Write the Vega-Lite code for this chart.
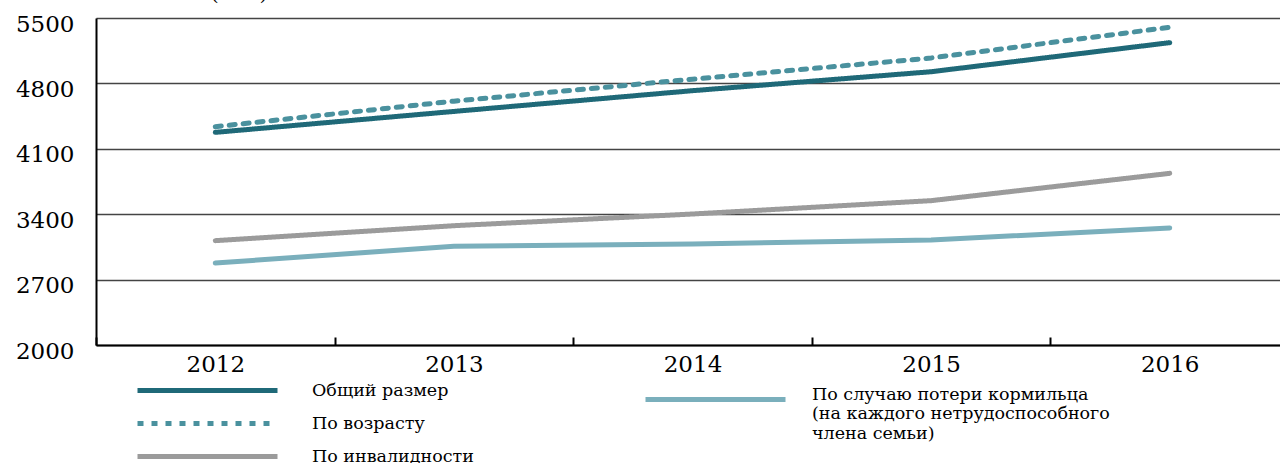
{
  "$schema": "https://vega.github.io/schema/vega-lite/v6.json",
  "width": 1193,
  "height": 327,
  "autosize": {"type": "none"},
  "padding": {"left": 96, "top": 18, "right": 0, "bottom": 118},
  "background": "white",
  "title": {"text": "(сом)", "anchor": "start", "orient": "top", "offset": 9, "dx": 195, "fontSize": 21, "font": "DejaVu Serif", "fontWeight": "normal", "color": "black"},
  "config": {
    "view": {"stroke": null},
    "axis": {"labelFont": "DejaVu Serif", "labelColor": "black", "labelFontSize": 23}
  },
  "data": {
    "values": [
      {"year": "2012", "series": "Общий размер", "value": 4276},
      {"year": "2013", "series": "Общий размер", "value": 4500},
      {"year": "2014", "series": "Общий размер", "value": 4722},
      {"year": "2015", "series": "Общий размер", "value": 4925},
      {"year": "2016", "series": "Общий размер", "value": 5236},
      {"year": "2012", "series": "По возрасту", "value": 4337},
      {"year": "2013", "series": "По возрасту", "value": 4610},
      {"year": "2014", "series": "По возрасту", "value": 4845},
      {"year": "2015", "series": "По возрасту", "value": 5072},
      {"year": "2016", "series": "По возрасту", "value": 5400},
      {"year": "2012", "series": "По инвалидности", "value": 3117},
      {"year": "2013", "series": "По инвалидности", "value": 3277},
      {"year": "2014", "series": "По инвалидности", "value": 3402},
      {"year": "2015", "series": "По инвалидности", "value": 3545},
      {"year": "2016", "series": "По инвалидности", "value": 3837},
      {"year": "2012", "series": "По случаю потери кормильца", "value": 2878},
      {"year": "2013", "series": "По случаю потери кормильца", "value": 3056},
      {"year": "2014", "series": "По случаю потери кормильца", "value": 3081},
      {"year": "2015", "series": "По случаю потери кормильца", "value": 3124},
      {"year": "2016", "series": "По случаю потери кормильца", "value": 3253}
    ]
  },
  "encoding": {
    "x": {
      "field": "year", "type": "ordinal", "bandPosition": 0.5,
      "scale": {"type": "band", "paddingInner": 0, "paddingOuter": 0},
      "axis": {"title": null, "labelAngle": 0, "domainColor": "black", "domainWidth": 2, "tickBand": "extent", "tickSize": -8, "tickColor": "black", "tickWidth": 2, "labelPadding": 16, "grid": false}
    },
    "y": {
      "field": "value", "type": "quantitative",
      "scale": {"domain": [2000, 5500], "nice": false, "zero": false},
      "axis": {"title": null, "values": [2000, 2700, 3400, 4100, 4800, 5500], "format": "d", "grid": true, "gridColor": "#444444", "gridWidth": 1.5, "domainColor": "black", "domainWidth": 2, "ticks": false, "labelPadding": 22, "labelBaseline": "top", "labelOffset": -5}
    }
  },
  "layer": [
    {
      "transform": [{"filter": "datum.series !== 'По случаю потери кормильца'"}],
      "mark": {"type": "line", "strokeWidth": 5, "strokeCap": "round", "interpolate": "linear"},
      "encoding": {
        "color": {
          "field": "series", "type": "nominal",
          "scale": {"domain": ["Общий размер", "По возрасту", "По инвалидности"], "range": ["#1f6978", "#4a919e", "#9b9b9b"]},
          "legend": {"orient": "none", "legendX": 99, "legendY": 360, "title": null, "symbolType": "M-7,0H7", "symbolSize": 400, "symbolStrokeWidth": 5, "labelFont": "DejaVu Serif", "labelFontSize": 17.5, "labelColor": "black", "labelOffset": 92, "rowPadding": 10, "labelLimit": 0}
        },
        "strokeDash": {
          "field": "series", "type": "nominal",
          "scale": {"domain": ["Общий размер", "По возрасту", "По инвалидности"], "range": [[1, 0], [6, 8], [1, 0]]},
          "legend": {"orient": "none", "legendX": 99, "legendY": 360, "title": null, "symbolType": "M-7,0H7", "symbolSize": 400, "symbolStrokeWidth": 5, "labelFont": "DejaVu Serif", "labelFontSize": 17.5, "labelColor": "black", "labelOffset": 92, "rowPadding": 10, "labelLimit": 0}
        }
      }
    },
    {
      "transform": [{"filter": "datum.series === 'По случаю потери кормильца'"}],
      "mark": {"type": "line", "strokeWidth": 5, "strokeCap": "round", "interpolate": "linear"},
      "encoding": {
        "color": {
          "field": "series", "type": "nominal",
          "scale": {"domain": ["По случаю потери кормильца"], "range": ["#7aafbc"]},
          "legend": {"orient": "none", "legendX": 607, "legendY": 369, "title": null, "symbolType": "M-7,0H7", "symbolSize": 400, "symbolStrokeWidth": 5, "labelFont": "DejaVu Serif", "labelFontSize": 17.5, "labelColor": "black", "labelOffset": 84, "labelLimit": 0, "labelBaseline": "alphabetic", "labelExpr": "['По случаю потери кормильца', '(на каждого нетрудоспособного', ' члена семьи)']"}
        }
      }
    }
  ],
  "resolve": {"scale": {"color": "independent", "strokeDash": "independent"}}
}
